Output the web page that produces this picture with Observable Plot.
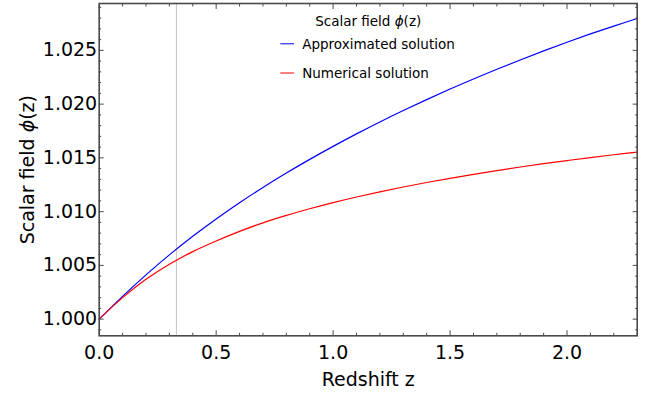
<!DOCTYPE html>
<html>
<head>
<meta charset="utf-8">
<script src="https://cdn.jsdelivr.net/npm/d3@7"></script>
<script src="https://cdn.jsdelivr.net/npm/@observablehq/plot@0.6"></script>
<style>
  html, body { margin: 0; padding: 0; background: #fff; }
  #chart { width: 654px; height: 397px; }
  #chart svg { font-family: "DejaVu Sans", sans-serif; display: block; }
</style>
</head>
<body>
<div id="chart"></div>
<script>
// ---- data ----
const redshift = [0.0, 0.1, 0.2, 0.3, 0.4, 0.5, 0.6, 0.7, 0.8, 0.9, 1.0, 1.1,
                  1.2, 1.3, 1.4, 1.5, 1.6, 1.7, 1.8, 1.9, 2.0, 2.1, 2.2, 2.3];
const approximated = [1.00000, 1.00212, 1.00412, 1.00598, 1.00771, 1.00932, 1.01083, 1.01225,
                      1.01359, 1.01486, 1.01607, 1.01723, 1.01834, 1.01940, 1.02042, 1.02140,
                      1.02234, 1.02324, 1.02411, 1.02495, 1.02576, 1.02653, 1.02726, 1.02796];
const numerical = [1.00000, 1.00200, 1.00370, 1.00510, 1.00628, 1.00727, 1.00816, 1.00896,
                   1.00965, 1.01027, 1.01084, 1.01136, 1.01184, 1.01229, 1.01271, 1.01310,
                   1.01347, 1.01382, 1.01415, 1.01446, 1.01475, 1.01503, 1.01529, 1.01554];
const seriesNames = ["Approximated solution", "Numerical solution"];
const seriesColors = ["#0000ff", "#ff0000"];
const markerZ = [0.33];
const xTicks = [0.0, 0.5, 1.0, 1.5, 2.0];
const xMinorTicks = [0.1, 0.2, 0.3, 0.4, 0.6, 0.7, 0.8, 0.9, 1.1, 1.2, 1.3, 1.4,
                     1.6, 1.7, 1.8, 1.9, 2.1, 2.2, 2.3];
const yTicks = [1.000, 1.005, 1.010, 1.015, 1.020, 1.025];
const yMinorTicks = [0.999, 1.001, 1.002, 1.003, 1.004, 1.006, 1.007, 1.008, 1.009,
                     1.011, 1.012, 1.013, 1.014, 1.016, 1.017, 1.018, 1.019,
                     1.021, 1.022, 1.023, 1.024, 1.026, 1.027, 1.028, 1.029];
const xTitle = "Redshift z";
const yTitle = "Scalar field ϕ(z)";
const legendTitle = "Scalar field ϕ(z)";

// ---- table for the library ----
const data = redshift.flatMap((z, i) => [
  {z, phi: approximated[i], series: seriesNames[0]},
  {z, phi: numerical[i], series: seriesNames[1]}
]);

const frameColor = "#4a4a4a";
const tickFont = 19;
const legendFont = 13.5;
const lineShape = {draw(ctx, l) { ctx.moveTo(0, 0); ctx.lineTo(0, -l); }};

const tickAxes = [];
for (const anchor of ["bottom", "top"]) {
  tickAxes.push(Plot.axisX(xTicks, {anchor, tickSize: -5, fill: "none", stroke: frameColor, label: null}));
  tickAxes.push(Plot.axisX(xMinorTicks, {anchor, tickSize: -2.5, fill: "none", stroke: frameColor, label: null}));
}
for (const anchor of ["left", "right"]) {
  tickAxes.push(Plot.axisY(yTicks, {anchor, tickSize: -5, fill: "none", stroke: frameColor, label: null}));
  tickAxes.push(Plot.axisY(yMinorTicks, {anchor, tickSize: -2.5, fill: "none", stroke: frameColor, label: null}));
}

const legendMarks = [
  Plot.text([legendTitle], {frameAnchor: "top", dy: 18.4, fontSize: legendFont, fill: "#000",
    textAnchor: "middle", lineAnchor: "middle"})
];
seriesNames.forEach((name, i) => {
  const base = 40.3 + i * 29.2;
  legendMarks.push(
    Plot.vector([name], {frameAnchor: "top-left", dx: 181.5, dy: base, length: 13, rotate: 90,
      anchor: "start", shape: lineShape, stroke: seriesColors[i], strokeWidth: 1}),
    Plot.text([name], {frameAnchor: "top-left", dx: 203, dy: base + 0.7, textAnchor: "start",
      lineAnchor: "middle", fontSize: legendFont, fill: "#000"})
  );
});

const plot = Plot.plot({
  width: 654,
  height: 397,
  marginLeft: 98.7,
  marginRight: 17.3,
  marginTop: 3,
  marginBottom: 61.7,
  style: {fontFamily: "DejaVu Sans", background: "#fff", color: "#000"},
  x: {domain: [0, 2.3]},
  y: {domain: [0.99845, 1.02936]},
  color: {domain: seriesNames, range: seriesColors},
  marks: [
    Plot.ruleX(markerZ, {stroke: "#c4c4c4", strokeWidth: 1}),
    Plot.line(data, {x: "z", y: "phi", stroke: "series", strokeWidth: 1.2, curve: "catmull-rom"}),
    ...tickAxes,
    Plot.axisX(xTicks, {anchor: "bottom", tickSize: 0, tickPadding: 9.5, tickFormat: d3.format(".1f"),
      fontSize: tickFont, label: null}),
    Plot.axisY(yTicks, {anchor: "left", tickSize: 0, tickPadding: 2, tickFormat: d3.format(".3f"),
      fontSize: tickFont, label: null}),
    Plot.text([xTitle], {frameAnchor: "bottom", dy: 44.6, fontSize: tickFont, fill: "#000",
      textAnchor: "middle", lineAnchor: "middle"}),
    Plot.text([yTitle], {frameAnchor: "left", dx: -71.5, rotate: -90, fontSize: tickFont, fill: "#000",
      textAnchor: "middle", lineAnchor: "middle"}),
    ...legendMarks,
    Plot.frame({stroke: frameColor, strokeWidth: 1.6})
  ]
});

// italic phi
d3.select(plot).selectAll("text").each(function () {
  const t = d3.select(this);
  const nodes = t.selectAll("tspan").size() ? t.selectAll("tspan") : t;
  nodes.each(function () {
    const el = d3.select(this);
    const s = el.text();
    if (s.includes("ϕ")) {
      const parts = s.split("ϕ");
      el.text(null);
      el.append("tspan").text(parts[0]);
      el.append("tspan").attr("font-style", "italic").text("ϕ");
      el.append("tspan").text(parts[1]);
    }
  });
});

document.getElementById("chart").appendChild(plot);
</script>
</body>
</html>
